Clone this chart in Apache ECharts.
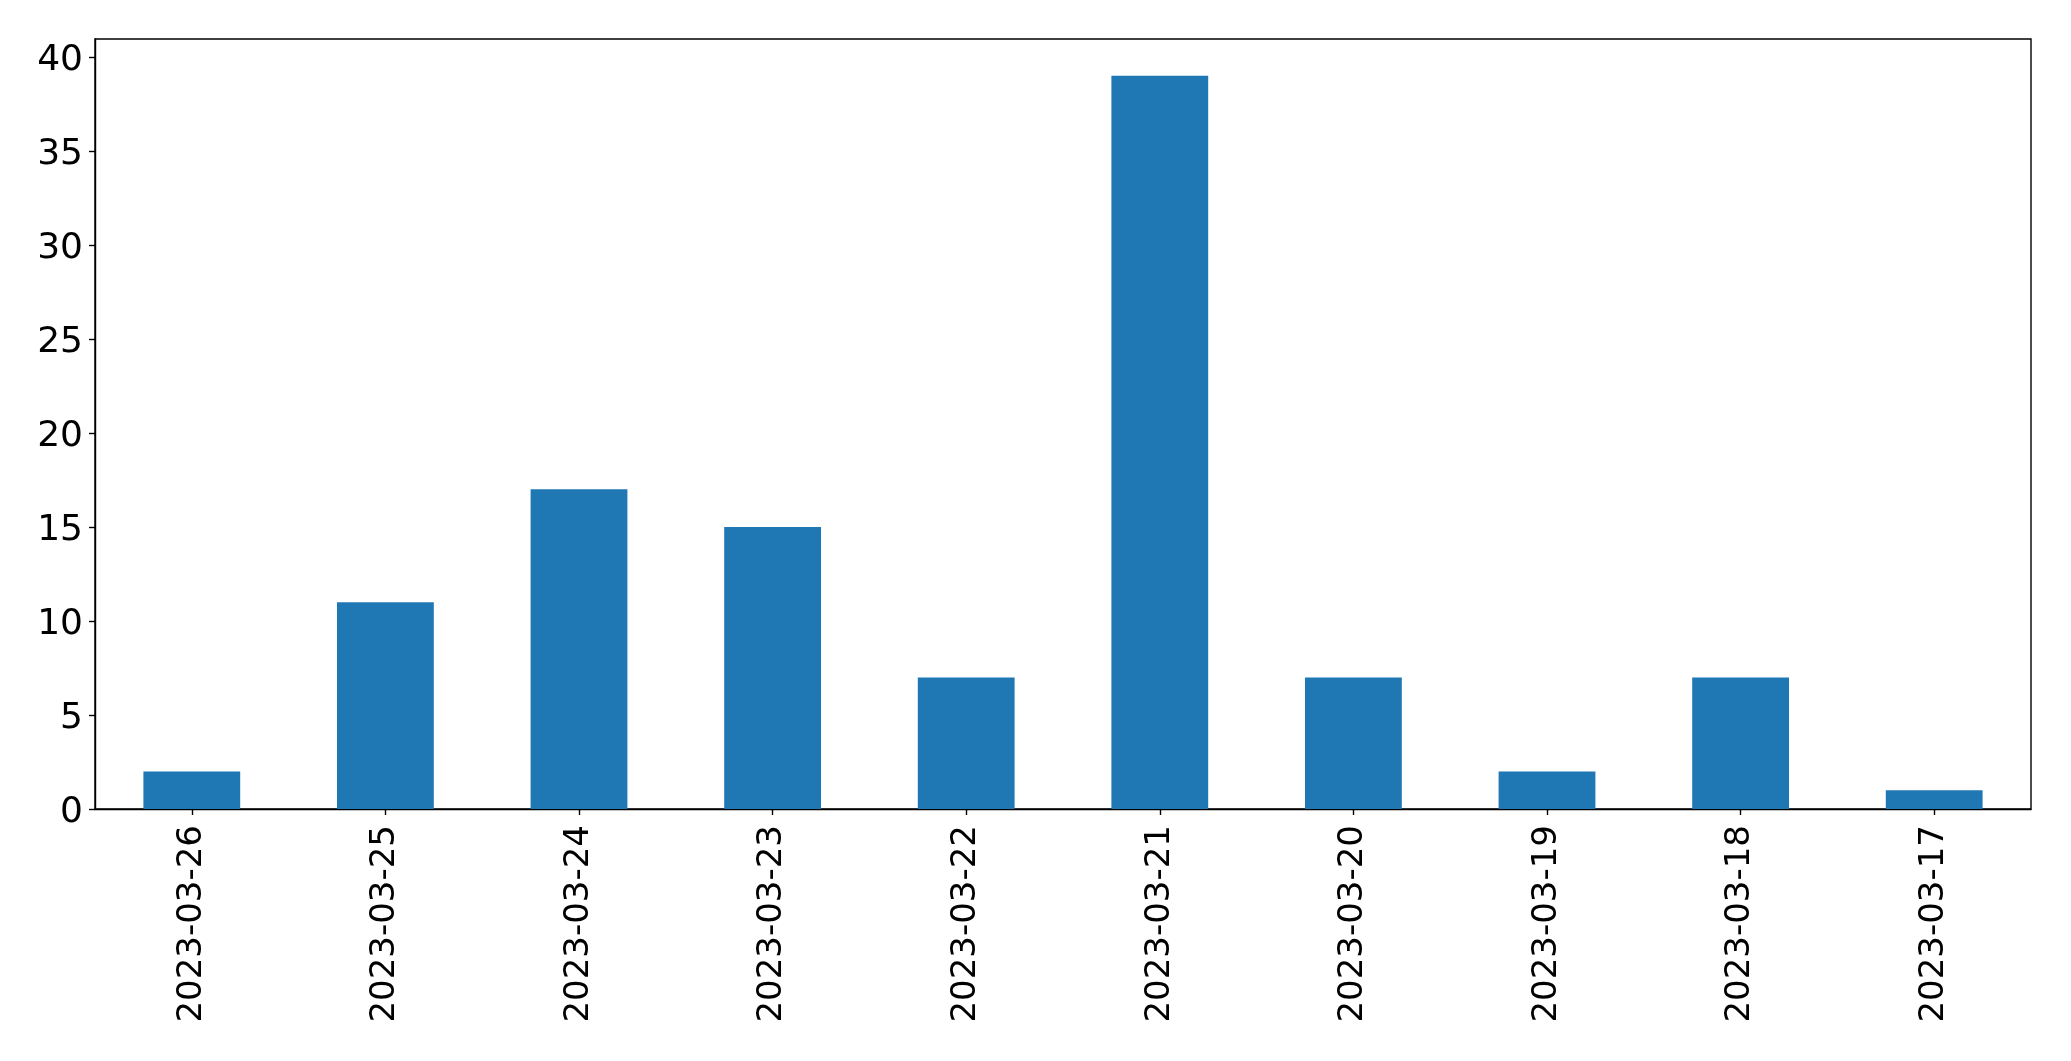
<!DOCTYPE html>
<html>
<head>
<meta charset="utf-8">
<script src="https://cdn.jsdelivr.net/npm/echarts@6/dist/echarts.min.js"></script>
<style>
html,body{margin:0;padding:0;background:#fff;}
#chart{width:2071px;height:1061px;}
</style>
</head>
<body>
<div id="chart"></div>
<script>
const categories = ['2023-03-26','2023-03-25','2023-03-24','2023-03-23','2023-03-22','2023-03-21','2023-03-20','2023-03-19','2023-03-18','2023-03-17'];
const counts = [2, 11, 17, 15, 7, 39, 7, 2, 7, 1];
const yTicks = [0, 5, 10, 15, 20, 25, 30, 35, 40];

const chart = echarts.init(document.getElementById('chart'), null, {renderer: 'canvas'});
const font = 'DejaVu Sans';
chart.setOption({
  animation: false,
  backgroundColor: '#ffffff',
  grid: {
    left: 95, right: 40, top: 39, bottom: 252,
    show: true, borderColor: '#000', borderWidth: 1.4, backgroundColor: 'transparent'
  },
  xAxis: {
    type: 'category',
    data: categories,
    boundaryGap: true,
    axisLine: {show: true, lineStyle: {color: '#000', width: 1.4}},
    axisTick: {show: true, alignWithLabel: true, length: 6, lineStyle: {color: '#000', width: 1.4}},
    axisLabel: {rotate: 90, margin: 16, fontSize: 34, fontFamily: font, color: '#000', interval: 0},
    splitLine: {show: false}
  },
  yAxis: {
    type: 'value',
    min: 0,
    max: 40.95,
    interval: 5,
    axisLine: {show: true, lineStyle: {color: '#000', width: 1.4}},
    axisTick: {show: true, length: 6, lineStyle: {color: '#000', width: 1.4}, customValues: yTicks},
    axisLabel: {
      margin: 12, color: '#000', customValues: yTicks,
      formatter: '{a|{value}}',
      rich: {a: {fontSize: 36, fontFamily: font, color: '#000', padding: [7, 0, 0, 0]}}
    },
    splitLine: {show: false}
  },
  series: [{
    type: 'bar',
    data: counts,
    barWidth: '50%',
    itemStyle: {color: '#1f77b4'}
  }]
});
</script>
</body>
</html>
